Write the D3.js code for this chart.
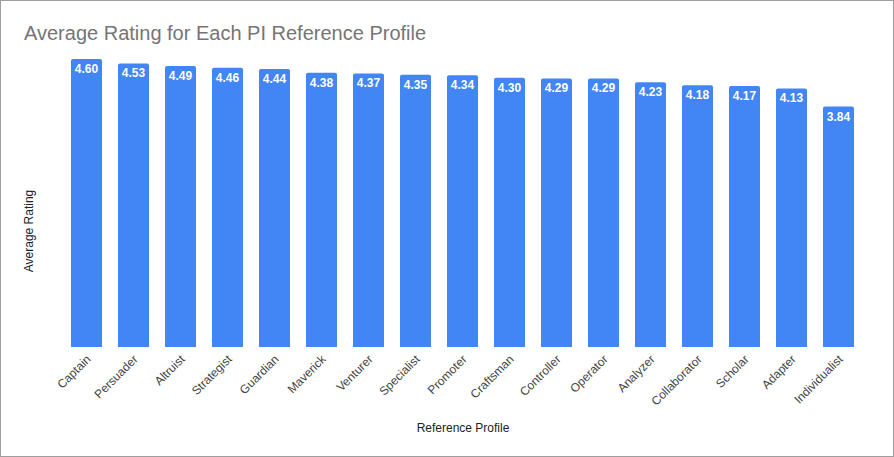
<!DOCTYPE html>
<html>
<head>
<meta charset="utf-8">
<script src="https://cdn.jsdelivr.net/npm/d3@7"></script>
<style>
  body { margin: 0; background: #fff; }
  svg { display: block; font-family: 'Liberation Sans', Arial, sans-serif; }
</style>
</head>
<body>
<script>
// reference profiles, sorted by rating
const profiles = ['Captain', 'Persuader', 'Altruist', 'Strategist', 'Guardian', 'Maverick',
  'Venturer', 'Specialist', 'Promoter', 'Craftsman', 'Controller', 'Operator', 'Analyzer',
  'Collaborator', 'Scholar', 'Adapter', 'Individualist'];
const ratings = [4.60, 4.53, 4.49, 4.46, 4.44, 4.38, 4.37, 4.35, 4.34, 4.30, 4.29, 4.29,
  4.23, 4.18, 4.17, 4.13, 3.84];

const data = profiles.map((p, i) => ({name: p, value: ratings[i]}));

const width = 894;
const height = 457;
const margin = ({top: 59, right: 32, bottom: 110, left: 63});

const svg = d3.select('body')
  .append('svg')
  .attr('width', width)
  .attr('height', height);

// frame
svg.append('rect')
  .attr('x', 0.5).attr('y', 0.5)
  .attr('width', width - 1).attr('height', height - 1)
  .attr('fill', '#fff')
  .attr('stroke', '#9e9e9e');

const xScale = d3.scaleBand()
  .domain(profiles)
  .range([margin.left, width - margin.right])
  .paddingInner(0.34)
  .paddingOuter(0.17);

const yScale = d3.scaleLinear()
  .domain([0, 4.6])
  .range([height - margin.bottom, margin.top]);

// bars with small rounded top corners
const r = 2;
svg.append('g')
  .selectAll('path')
  .data(data)
  .join('path')
  .attr('fill', '#4285f4')
  .attr('d', function(d) {
    const x0 = xScale(d.name), x1 = x0 + xScale.bandwidth();
    const y0 = yScale(0), y1 = yScale(d.value);
    return `M${x0},${y0}V${y1 + r}Q${x0},${y1} ${x0 + r},${y1}H${x1 - r}Q${x1},${y1} ${x1},${y1 + r}V${y0}Z`;
  });

// value labels
svg.append('g')
  .selectAll('text')
  .data(data)
  .join('text')
  .attr('x', d => xScale(d.name) + xScale.bandwidth() / 2)
  .attr('y', d => yScale(d.value) + 14)
  .attr('text-anchor', 'middle')
  .attr('fill', '#fff')
  .attr('font-size', 12)
  .attr('font-weight', 'bold')
  .text(d => d.value.toFixed(2));

// x axis
const xAxis = d3.axisBottom(xScale).tickSize(0).tickPadding(0);
const gx = svg.append('g')
  .attr('transform', `translate(0,${height - margin.bottom})`)
  .call(xAxis);
gx.select('.domain').remove();
gx.selectAll('text')
  .attr('fill', '#444')
  .attr('font-size', 12)
  .attr('font-family', "'Liberation Sans', Arial, sans-serif")
  .attr('text-anchor', 'end')
  .attr('dy', null)
  .attr('y', 0)
  .attr('transform', 'translate(5,13) rotate(-45)');

// title
svg.append('text')
  .attr('x', 24)
  .attr('y', 40)
  .attr('fill', '#757575')
  .attr('font-size', 20)
  .text('Average Rating for Each PI Reference Profile');

// axis titles
svg.append('text')
  .attr('x', 463)
  .attr('y', 432)
  .attr('text-anchor', 'middle')
  .attr('fill', '#222')
  .attr('font-size', 12)
  .text('Reference Profile');

svg.append('text')
  .attr('transform', 'translate(33,231) rotate(-90)')
  .attr('text-anchor', 'middle')
  .attr('fill', '#222')
  .attr('font-size', 12)
  .text('Average Rating');
</script>
</body>
</html>
